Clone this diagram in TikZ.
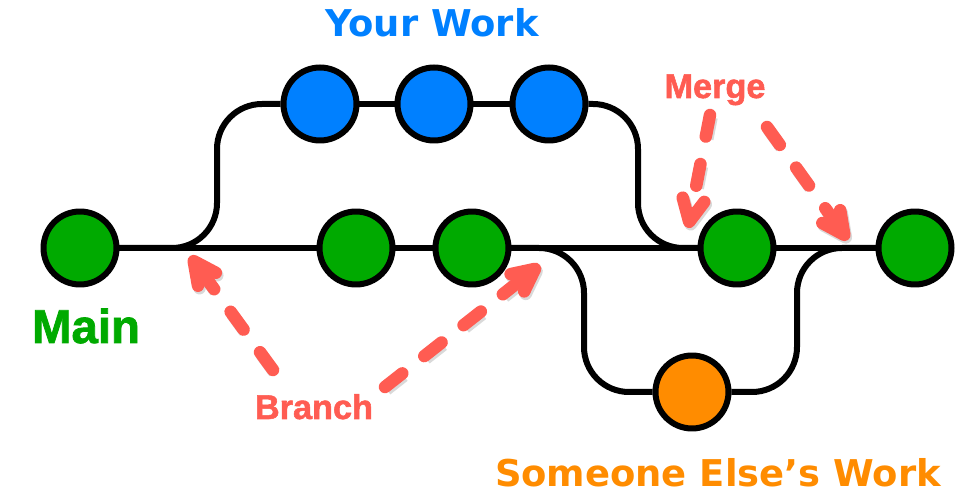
\documentclass[tikz,border=0pt]{standalone}
\usepackage{fontspec}
\setmainfont{DejaVu Sans}
\newfontfamily\notefont{Liberation Sans}[BoldFeatures={FakeBold=1.6}]
\usetikzlibrary{arrows.meta}
\definecolor{mainfill}{RGB}{0,170,0}
\definecolor{workfill}{RGB}{0,128,255}
\definecolor{otherfill}{RGB}{255,140,0}
\definecolor{notered}{RGB}{255,92,82}
\tikzset{
  commit/.style={circle, draw=black, line width=0.12cm, minimum size=1.46cm, inner sep=0pt},
  track/.style={line width=0.12cm, rounded corners=0.9cm},
  barb/.style={-{Straight Barb[length=0.45cm, width=0.44cm, line cap=round, line join=round]}},
  pointer/.style={notered, line width=0.25cm, line cap=round, barb,
    dash pattern=on 0.44cm off 0.56cm,
    preaction={draw=black, opacity=0.15, line width=0.25cm, barb,
      dash pattern=on 0.44cm off 0.56cm,
      transform canvas={shift={(0.03cm,-0.05cm)}}}},
  heading/.style={font=\bfseries\fontsize{21}{25}\selectfont, anchor=base},
  note/.style={text=notered, font=\notefont\bfseries\fontsize{19.5}{23}\selectfont, anchor=base}
}
\begin{document}
\begin{tikzpicture}[x=0.02cm, y=-0.02cm]
  \useasboundingbox (0,0) rectangle (968,496);
  % commits
  \node [commit, fill=mainfill] (m1) at (80,248) {};
  \node [commit, fill=mainfill] (m2) at (356,248) {};
  \node [commit, fill=mainfill] (m3) at (472,248) {};
  \node [commit, fill=mainfill] (m4) at (737,248) {};
  \node [commit, fill=mainfill] (m5) at (915,248) {};
  \node [commit, fill=workfill] (w1) at (320,104) {};
  \node [commit, fill=workfill] (w2) at (434,104) {};
  \node [commit, fill=workfill] (w3) at (549,104) {};
  \node [commit, fill=otherfill] (s1) at (692,392) {};
  % tracks
  \draw [track] (m1) -- (m2) -- (m3) -- (m4) -- (m5);
  \draw [track] (m1.east) -- (217,248) |- (w1.west);
  \draw [track] (w1) -- (w2) -- (w3);
  \draw [track] (w3.east) -- (638,104) |- (m4.west);
  \draw [track] (m3.east) -- (584,248) |- (s1.west);
  \draw [track] (s1.east) -- (797,392) |- (m5.west);
  % labels
  \node [heading, text=workfill] (yourwork) at (432,37) {Your Work};
  \node [heading, text=otherfill] (elsework) at (718,487) {Someone Else’s Work};
  \node [anchor=base, text=mainfill, font=\notefont\bfseries\fontsize{27}{32}\selectfont] (mainlabel) at (86,343) {Main};
  \node [note] (merge) at (715,98) {Merge};
  \node [note] (branch) at (314,419) {Branch};
  % pointers
  \coordinate (branchtipa) at (190,256);
  \coordinate (branchtipb) at (540,265);
  \coordinate (mergetipa) at (688,228);
  \coordinate (mergetipb) at (848,240);
  \draw [pointer] (273,370) -- (branchtipa);
  \draw [pointer] (385,387) -- (branchtipb);
  \draw [pointer] (710,115) -- (mergetipa);
  \draw [pointer] (767,127) -- (mergetipb);
\end{tikzpicture}
\end{document}
